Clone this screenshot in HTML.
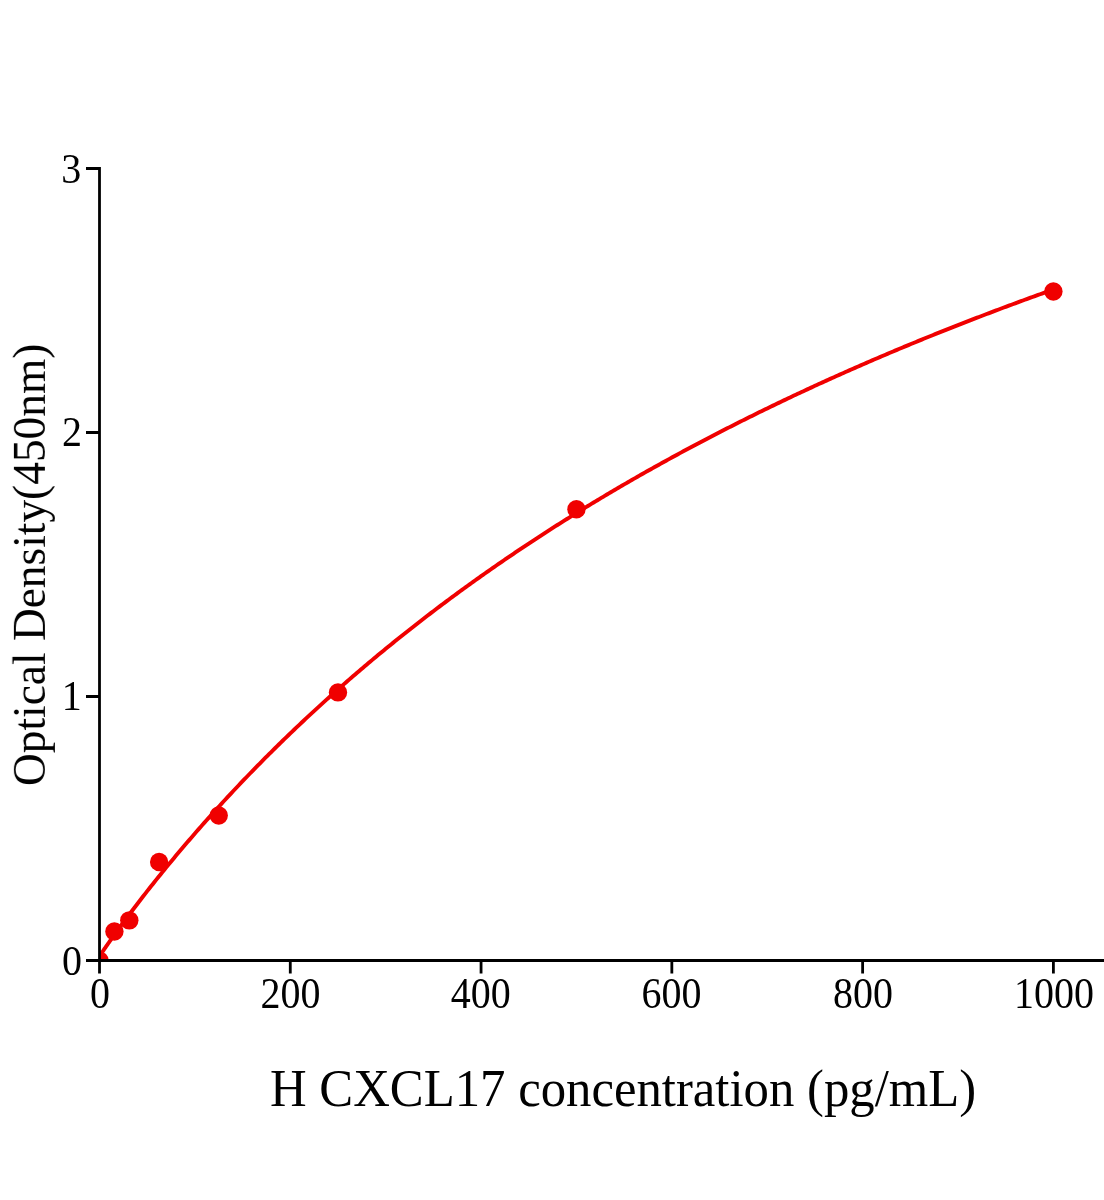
<!DOCTYPE html>
<html><head><meta charset="utf-8"><style>
html,body{margin:0;padding:0;background:#fff;}
body{width:1104px;height:1200px;overflow:hidden;}
svg{display:block;}
text{font-family:"Liberation Serif",serif;fill:#000;}
.t{opacity:0.999;}
</style></head><body>
<svg width="1104" height="1200" viewBox="0 0 1104 1200">
<rect width="1104" height="1200" fill="#fff"/>
<defs><clipPath id="pa"><rect x="99.5" y="0" width="1010" height="960.5"/></clipPath></defs>
<g clip-path="url(#pa)" fill="#f00000" stroke="none">
<polyline points="99.50,956.30 99.98,955.55 100.45,954.82 100.93,954.10 101.41,953.38 101.88,952.67 102.36,951.96 102.84,951.26 103.32,950.56 103.79,949.86 104.27,949.17 104.75,948.47 105.22,947.78 105.70,947.09 106.18,946.40 106.65,945.72 107.13,945.03 107.61,944.35 108.09,943.67 108.56,942.99 109.04,942.31 109.52,941.63 109.99,940.95 110.47,940.28 110.95,939.61 111.42,938.93 111.90,938.26 112.38,937.59 112.85,936.92 113.33,936.26 113.81,935.59 114.29,934.93 114.76,934.26 115.24,933.60 115.72,932.94 116.19,932.27 116.67,931.61 117.15,930.96 117.62,930.30 118.10,929.64 118.58,928.99 120.49,926.37 122.39,923.77 124.30,921.19 126.21,918.62 128.12,916.06 130.02,913.51 131.93,910.98 133.84,908.47 135.75,905.96 137.66,903.46 139.56,900.98 141.47,898.51 143.38,896.05 145.29,893.60 147.19,891.17 149.10,888.74 151.01,886.33 152.92,883.92 154.83,881.53 156.73,879.15 158.64,876.77 160.55,874.41 162.46,872.06 164.37,869.71 166.27,867.38 168.18,865.06 170.09,862.74 172.00,860.44 173.90,858.15 175.81,855.86 177.72,853.58 179.63,851.32 181.54,849.06 183.44,846.81 185.35,844.57 187.26,842.34 189.17,840.12 191.07,837.90 192.98,835.70 194.89,833.50 196.80,831.32 198.71,829.14 200.61,826.97 202.52,824.80 204.43,822.65 206.34,820.50 208.24,818.36 210.15,816.23 212.06,814.11 213.97,812.00 215.88,809.89 217.78,807.79 219.69,805.70 221.60,803.62 223.51,801.55 225.41,799.48 227.32,797.42 229.23,795.37 231.14,793.32 233.05,791.28 234.95,789.25 236.86,787.23 238.77,785.22 240.68,783.21 242.59,781.21 244.49,779.21 246.40,777.23 248.31,775.25 250.22,773.27 252.12,771.31 254.03,769.35 255.94,767.40 257.85,765.45 259.76,763.51 261.66,761.58 263.57,759.66 265.48,757.74 267.39,755.83 269.29,753.92 271.20,752.02 273.11,750.13 275.02,748.25 276.93,746.37 278.83,744.50 280.74,742.63 282.65,740.77 284.56,738.92 286.46,737.07 288.37,735.23 290.28,733.39 292.19,731.56 294.10,729.74 296.00,727.92 297.91,726.11 299.82,724.31 301.73,722.51 303.63,720.72 305.54,718.93 307.45,717.15 309.36,715.37 311.27,713.60 313.17,711.84 315.08,710.08 316.99,708.33 318.90,706.59 320.80,704.84 322.71,703.11 324.62,701.38 326.53,699.66 328.44,697.94 330.34,696.23 332.25,694.52 334.16,692.82 336.07,691.12 337.98,689.43 339.88,687.74 341.79,686.06 343.70,684.39 345.61,682.72 347.51,681.05 349.42,679.39 351.33,677.74 353.24,676.09 355.15,674.45 357.05,672.81 358.96,671.18 360.87,669.55 362.78,667.92 364.68,666.31 366.59,664.69 368.50,663.08 370.41,661.48 372.32,659.88 374.22,658.29 376.13,656.70 378.04,655.12 379.95,653.54 381.85,651.96 383.76,650.39 385.67,648.83 387.58,647.27 389.49,645.71 391.39,644.16 393.30,642.62 395.21,641.08 397.12,639.54 399.02,638.01 400.93,636.48 402.84,634.96 404.75,633.44 406.66,631.93 408.56,630.42 410.47,628.91 412.38,627.41 414.29,625.92 416.19,624.43 418.10,622.94 420.01,621.46 421.92,619.98 423.83,618.50 425.73,617.03 427.64,615.57 429.55,614.11 431.46,612.65 433.37,611.20 435.27,609.75 437.18,608.30 439.09,606.86 441.00,605.43 442.90,604.00 444.81,602.57 446.72,601.15 448.63,599.73 450.54,598.31 452.44,596.90 454.35,595.49 456.26,594.09 458.17,592.69 460.07,591.29 461.98,589.90 463.89,588.51 465.80,587.13 467.71,585.75 469.61,584.38 471.52,583.00 473.43,581.64 475.34,580.27 477.24,578.91 479.15,577.55 481.06,576.20 482.97,574.85 484.88,573.51 486.78,572.16 488.69,570.83 490.60,569.49 492.51,568.16 494.41,566.84 496.32,565.51 498.23,564.19 500.14,562.88 502.05,561.56 503.95,560.26 505.86,558.95 507.77,557.65 509.68,556.35 511.58,555.06 513.49,553.77 515.40,552.48 517.31,551.19 519.22,549.91 521.12,548.64 523.03,547.36 524.94,546.09 526.85,544.83 528.75,543.56 530.66,542.30 532.57,541.05 534.48,539.79 536.39,538.54 538.29,537.30 540.20,536.05 542.11,534.81 544.02,533.57 545.93,532.34 547.83,531.11 549.74,529.88 551.65,528.66 553.56,527.44 555.46,526.22 557.37,525.01 559.28,523.80 561.19,522.59 563.10,521.39 565.00,520.18 566.91,518.99 568.82,517.79 570.73,516.60 572.63,515.41 574.54,514.22 576.45,513.04 578.36,511.86 580.27,510.68 582.17,509.51 584.08,508.34 585.99,507.17 587.90,506.01 589.80,504.85 591.71,503.69 593.62,502.53 595.53,501.38 597.44,500.23 599.34,499.08 601.25,497.94 603.16,496.80 605.07,495.66 606.97,494.52 608.88,493.39 610.79,492.26 612.70,491.13 614.61,490.01 616.51,488.89 618.42,487.77 620.33,486.65 622.24,485.54 624.14,484.43 626.05,483.32 627.96,482.22 629.87,481.12 631.78,480.02 633.68,478.92 635.59,477.83 637.50,476.74 639.41,475.65 641.32,474.56 643.22,473.48 645.13,472.40 647.04,471.32 648.95,470.25 650.85,469.18 652.76,468.11 654.67,467.04 656.58,465.98 658.49,464.92 660.39,463.86 662.30,462.80 664.21,461.75 666.12,460.69 668.02,459.65 669.93,458.60 671.84,457.56 673.75,456.51 675.66,455.48 677.56,454.44 679.47,453.40 681.38,452.37 683.29,451.34 685.19,450.32 687.10,449.29 689.01,448.27 690.92,447.25 692.83,446.24 694.73,445.22 696.64,444.21 698.55,443.20 700.46,442.20 702.36,441.19 704.27,440.19 706.18,439.19 708.09,438.19 710.00,437.20 711.90,436.20 713.81,435.21 715.72,434.22 717.63,433.24 719.53,432.26 721.44,431.27 723.35,430.29 725.26,429.32 727.17,428.34 729.07,427.37 730.98,426.40 732.89,425.43 734.80,424.47 736.71,423.51 738.61,422.54 740.52,421.59 742.43,420.63 744.34,419.68 746.24,418.72 748.15,417.77 750.06,416.83 751.97,415.88 753.88,414.94 755.78,414.00 757.69,413.06 759.60,412.12 761.51,411.19 763.41,410.25 765.32,409.32 767.23,408.39 769.14,407.47 771.05,406.54 772.95,405.62 774.86,404.70 776.77,403.78 778.68,402.87 780.58,401.95 782.49,401.04 784.40,400.13 786.31,399.22 788.22,398.32 790.12,397.41 792.03,396.51 793.94,395.61 795.85,394.72 797.75,393.82 799.66,392.93 801.57,392.03 803.48,391.15 805.39,390.26 807.29,389.37 809.20,388.49 811.11,387.61 813.02,386.73 814.92,385.85 816.83,384.97 818.74,384.10 820.65,383.23 822.56,382.36 824.46,381.49 826.37,380.62 828.28,379.76 830.19,378.89 832.10,378.03 834.00,377.17 835.91,376.32 837.82,375.46 839.73,374.61 841.63,373.76 843.54,372.91 845.45,372.06 847.36,371.21 849.27,370.37 851.17,369.53 853.08,368.69 854.99,367.85 856.90,367.01 858.80,366.18 860.71,365.34 862.62,364.51 864.53,363.68 866.44,362.85 868.34,362.03 870.25,361.20 872.16,360.38 874.07,359.56 875.97,358.74 877.88,357.92 879.79,357.11 881.70,356.29 883.61,355.48 885.51,354.67 887.42,353.86 889.33,353.06 891.24,352.25 893.14,351.45 895.05,350.64 896.96,349.84 898.87,349.05 900.78,348.25 902.68,347.45 904.59,346.66 906.50,345.87 908.41,345.08 910.31,344.29 912.22,343.50 914.13,342.72 916.04,341.93 917.95,341.15 919.85,340.37 921.76,339.59 923.67,338.81 925.58,338.04 927.49,337.26 929.39,336.49 931.30,335.72 933.21,334.95 935.12,334.18 937.02,333.42 938.93,332.65 940.84,331.89 942.75,331.13 944.66,330.37 946.56,329.61 948.47,328.85 950.38,328.10 952.29,327.34 954.19,326.59 956.10,325.84 958.01,325.09 959.92,324.34 961.83,323.60 963.73,322.85 965.64,322.11 967.55,321.37 969.46,320.63 971.36,319.89 973.27,319.15 975.18,318.41 977.09,317.68 979.00,316.95 980.90,316.22 982.81,315.49 984.72,314.76 986.63,314.03 988.53,313.31 990.44,312.58 992.35,311.86 994.26,311.14 996.17,310.42 998.07,309.70 999.98,308.98 1001.89,308.27 1003.80,307.55 1005.70,306.84 1007.61,306.13 1009.52,305.42 1011.43,304.71 1013.34,304.00 1015.24,303.30 1017.15,302.59 1019.06,301.89 1020.97,301.19 1022.88,300.49 1024.78,299.79 1026.69,299.09 1028.60,298.40 1030.51,297.70 1032.41,297.01 1034.32,296.32 1036.23,295.63 1038.14,294.94 1040.05,294.25 1041.95,293.56 1043.86,292.88 1045.77,292.19 1047.68,291.51 1049.58,290.83 1051.49,290.15 1053.40,289.47" fill="none" stroke="#f00000" stroke-width="3.9" stroke-linejoin="round"/>
<circle cx="99.50" cy="960.50" r="9.2"/>
<circle cx="114.40" cy="931.46" r="9.2"/>
<circle cx="129.31" cy="920.37" r="9.2"/>
<circle cx="159.12" cy="862.03" r="9.2"/>
<circle cx="218.74" cy="815.56" r="9.2"/>
<circle cx="337.98" cy="692.41" r="9.2"/>
<circle cx="576.45" cy="509.32" r="9.2"/>
<circle cx="1053.40" cy="291.52" r="9.2"/>
</g>
<g stroke="#000" stroke-width="2.8" fill="none" stroke-linecap="butt">
<path d="M99.5 167.1 V973.6"/>
<path d="M86 960.5 H1104"/>
<path d="M86 168.5 H99.5 M86 432.5 H99.5 M86 696.5 H99.5"/>
<path d="M290.28 960.5 V973.6 M481.06 960.5 V973.6 M671.84 960.5 V973.6 M862.62 960.5 V973.6 M1053.40 960.5 V973.6"/>
</g>
<g class="t">
<g font-size="40" text-anchor="end">
<text transform="translate(81.2,182.8) scale(1,1.08)">3</text>
<text transform="translate(82.0,446.0) scale(1,1.08)">2</text>
<text transform="translate(81.7,710.0) scale(1,1.08)">1</text>
<text transform="translate(82.1,974.5) scale(1,1.08)">0</text>
</g>
<g font-size="40" text-anchor="middle">
<text transform="translate(100.0,1007.6) scale(1,1.1)">0</text>
<text transform="translate(290.4,1007.6) scale(1,1.1)">200</text>
<text transform="translate(480.8,1007.6) scale(1,1.1)">400</text>
<text transform="translate(671.6,1007.6) scale(1,1.1)">600</text>
<text transform="translate(863.0,1007.6) scale(1,1.1)">800</text>
<text transform="translate(1054.0,1007.6) scale(1,1.1)">1000</text>
</g>
<text transform="translate(270,1106) scale(0.958,1)" font-size="53">H CXCL17 concentration (pg/mL)</text>
<text transform="translate(45.3,786) rotate(-90) scale(1,1.01)" font-size="45.4">Optical Density(450nm)</text>
</g>
</svg>
</body></html>
